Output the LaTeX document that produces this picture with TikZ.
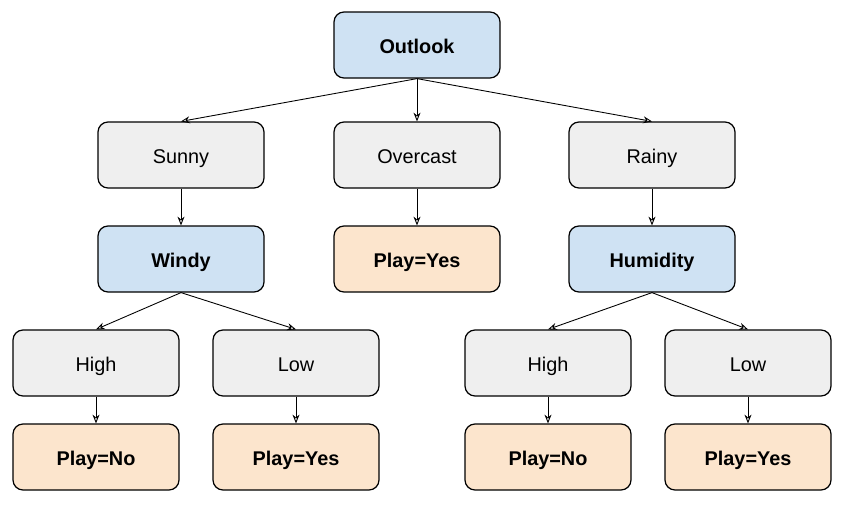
\documentclass[tikz,border=0pt]{standalone}
\usepackage{fontspec}
\setmainfont{Liberation Sans}
\usetikzlibrary{arrows.meta}
\definecolor{attrblue}{HTML}{CFE2F3}
\definecolor{valgray}{HTML}{EFEFEF}
\definecolor{leaforange}{HTML}{FCE5CD}

\begin{document}
\begin{tikzpicture}[x=0.02cm, y=-0.02cm,
    box/.style={draw, line width=0.7pt, rounded corners=0.2cm, minimum width=3.32cm, minimum height=1.32cm, text height=11pt, text depth=1pt, font=\fontsize{11.3}{13}\selectfont},
    attr/.style={box, fill=attrblue, font=\fontsize{11.3}{13}\selectfont\bfseries},
    val/.style={box, fill=valgray},
    leaf/.style={box, fill=leaforange, font=\fontsize{11.3}{13}\selectfont\bfseries},
    edge/.style={-{Stealth[length=5pt, width=4pt, open]}, line width=0.5pt}]
  \useasboundingbox (0,0) rectangle (850,505);

  \node[attr] (outlook) at (417,45) {Outlook};

  \node[val] (sunny) at (181,155) {Sunny};
  \node[val] (overcast) at (417,155) {Overcast};
  \node[val] (rainy) at (652,155) {Rainy};

  \node[attr] (windy) at (181,259) {Windy};
  \node[leaf] (yes1) at (417,259) {Play=Yes};
  \node[attr] (humidity) at (652,259) {Humidity};

  \node[val] (whigh) at (96,363) {High};
  \node[val] (wlow) at (296,363) {Low};
  \node[val] (hhigh) at (548,363) {High};
  \node[val] (hlow) at (748,363) {Low};

  \node[leaf] (no1) at (96,457) {Play=No};
  \node[leaf] (yes2) at (296,457) {Play=Yes};
  \node[leaf] (no2) at (548,457) {Play=No};
  \node[leaf] (yes3) at (748,457) {Play=Yes};

  \foreach \a/\b in {outlook/sunny, outlook/overcast, outlook/rainy,
                     sunny/windy, overcast/yes1, rainy/humidity,
                     windy/whigh, windy/wlow, humidity/hhigh, humidity/hlow,
                     whigh/no1, wlow/yes2, hhigh/no2, hlow/yes3}
    \draw[edge] (\a.south) -- (\b.north);
\end{tikzpicture}
\end{document}
